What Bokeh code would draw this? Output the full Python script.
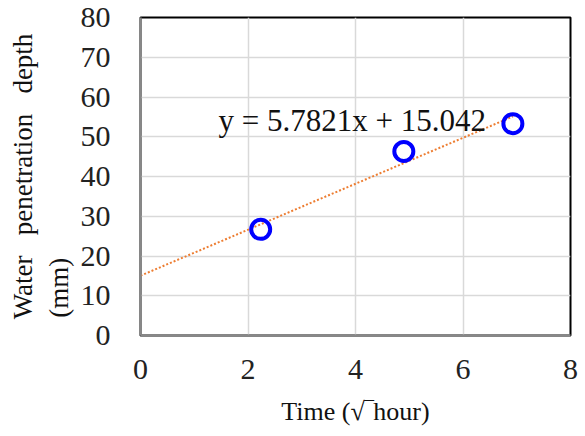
from bokeh.plotting import figure
from bokeh.models import Label, Range1d, FixedTicker
from bokeh.embed import file_html
from bokeh.resources import INLINE

# data
time_sqrt_hour = [2.236, 4.899, 6.928]
depth_mm = [26.7, 46.3, 53.3]
slope = 5.7821
intercept = 15.042
trend_x = [0, 6.928]
x_ticks = [0, 2, 4, 6, 8]
y_ticks = [0, 10, 20, 30, 40, 50, 60, 70, 80]
equation = "y = 5.7821x + 15.042"

FONT = "Liberation Serif"
NB = "\u00a0"

p = figure(width=585, height=436, output_backend="svg", toolbar_location=None,
           x_range=Range1d(0, 8), y_range=Range1d(0, 80),
           frame_width=430, frame_height=318,
           min_border_left=140, min_border_right=15, min_border_top=17, min_border_bottom=101)
p.background_fill_color = "white"
p.border_fill_color = "white"
p.outline_line_color = "black"
p.outline_line_width = 2

for ax in (p.xaxis[0], p.yaxis[0]):
    ax.major_label_text_font = FONT
    ax.major_label_text_font_size = "30px"
    ax.major_label_text_color = "#222222"
    ax.major_tick_line_color = None
    ax.minor_tick_line_color = None
    ax.axis_line_color = "#888888"
    ax.axis_line_width = 2.5
    ax.axis_label_text_font = FONT
    ax.axis_label_text_font_style = "normal"
    ax.axis_label_text_color = "#111111"

p.xaxis.ticker = FixedTicker(ticks=x_ticks)
p.yaxis.ticker = FixedTicker(ticks=y_ticks)
p.xaxis.major_label_standoff = 18
p.yaxis.major_label_standoff = 24
p.xaxis.axis_label = "Time (\u221a\u203ehour)"
p.xaxis.axis_label_text_font_size = "26px"
p.xaxis.axis_label_standoff = 15
p.yaxis.axis_label = ("Water" + NB * 3 + "penetration" + NB * 3 + "depth\n"
                      + "(mm)" + NB * 33)
p.yaxis.axis_label_text_font_size = "27px"
p.yaxis.axis_label_standoff = 4

p.xgrid.grid_line_color = "#d9d9d9"
p.ygrid.grid_line_color = "#d9d9d9"
p.xgrid.grid_line_width = 1.5
p.ygrid.grid_line_width = 1.5

trend_y = [slope * x + intercept for x in trend_x]
p.line(trend_x, trend_y, line_color="#ED7D31", line_width=2, line_dash="2 2")

p.scatter(time_sqrt_hour, depth_mm, marker="circle", size=19, fill_color=None,
          line_color="#0000ff", line_width=4)

p.add_layout(Label(x=1.45, y=54.2, text=equation, text_font=FONT, text_font_size="31px",
                   text_baseline="middle", text_align="left", text_color="#111111"))

open("out.html", "w").write(file_html(p, INLINE))
